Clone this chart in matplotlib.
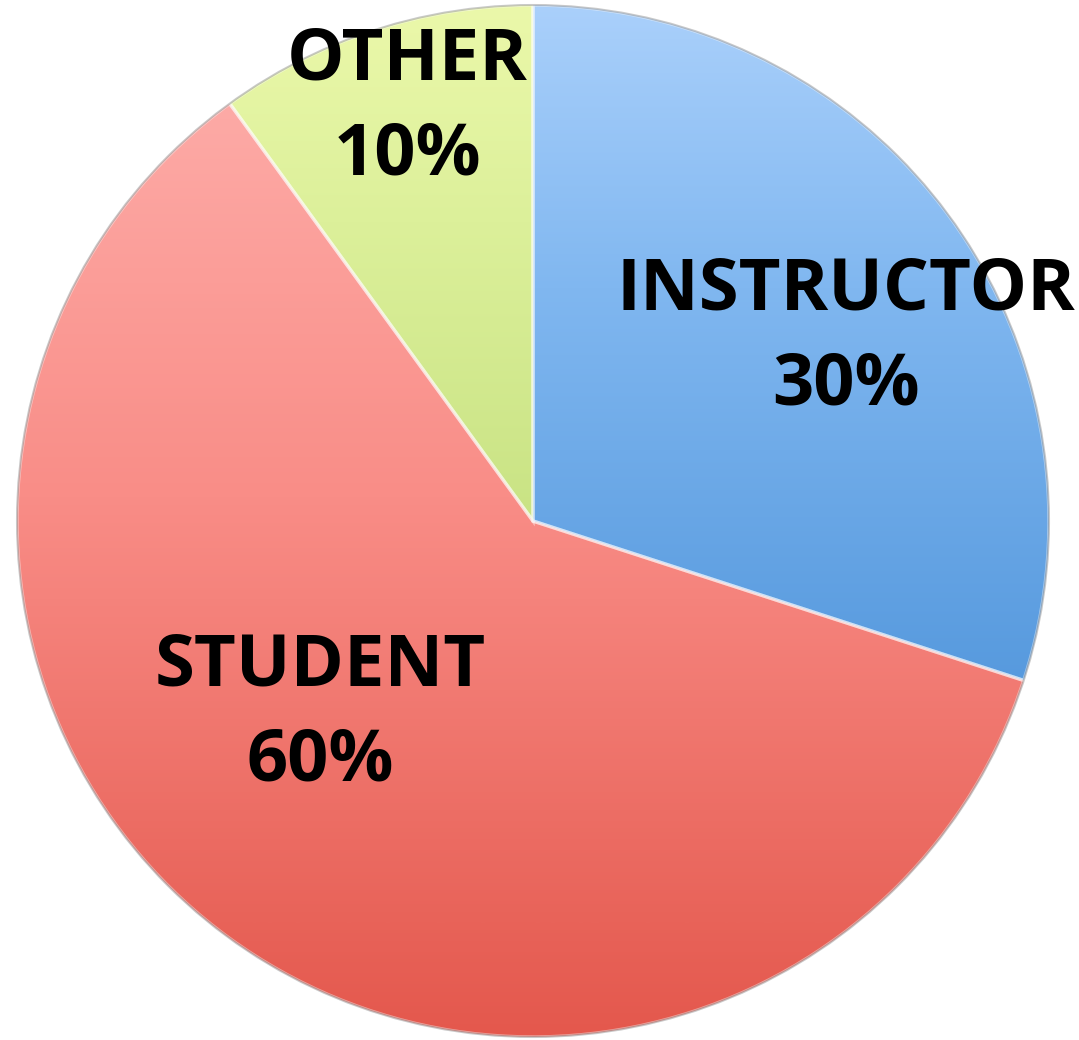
import numpy as np
import matplotlib
matplotlib.use("Agg")
import matplotlib.pyplot as plt
from matplotlib.colors import LinearSegmentedColormap

labels = ["INSTRUCTOR", "STUDENT", "OTHER"]
shares = [30, 60, 10]

# top / middle / bottom colour of each slice's vertical gradient
grad_top = ["#aad0fb", "#fdaaa6", "#ebf8aa"]
grad_mid = ["#80b7f0", "#f98d87", "#dcf09a"]
grad_bottom = ["#579ade", "#e4584d", "#c9e384"]
label_pos = [(846, 338), (320, 714), (407, 108)]

fig = plt.figure(figsize=(10.79, 10.40), dpi=100)
ax = fig.add_axes([0, 0, 1, 1])

cx, cy, r = 533, 1040 - 521, 516
wedges, _ = ax.pie(shares, startangle=90, counterclock=False,
                   radius=r, center=(cx, cy),
                   wedgeprops=dict(linewidth=0))

for w, top, mid, bot in zip(wedges, grad_top, grad_mid, grad_bottom):
    w.set_facecolor("none")
    ext = w.get_path().get_extents()
    cmap = LinearSegmentedColormap.from_list("g", [(0, top), (0.42, mid), (1, bot)])
    grad = np.linspace(0, 1, 256).reshape(-1, 1)
    im = ax.imshow(grad, cmap=cmap, aspect="auto", origin="upper",
                   extent=[ext.x0, ext.x1, ext.y0, ext.y1], zorder=1,
                   interpolation="bilinear")
    im.set_clip_path(w)
    # soft bevel highlight along the edges
    w.set_edgecolor((1, 1, 1, 0.45))
    w.set_linewidth(2.5)
    w.set_zorder(2)

# thin grey outline around the whole pie, like the soft shadow
circ = plt.Circle((cx, cy), r, fill=False, ec=(0.4, 0.4, 0.4, 0.35), lw=1.5, zorder=3)
ax.add_patch(circ)

for lab, s, (x, y) in zip(labels, shares, label_pos):
    ax.text(x, 1040 - y, f"{lab}\n{s}%", ha="center", va="center",
            fontsize=52, fontweight="bold", family="Open Sans",
            linespacing=1.42, zorder=5)

ax.set_xlim(0, 1079)
ax.set_ylim(0, 1040)
ax.set_aspect("auto")
ax.axis("off")

fig.savefig("out.png", dpi=100)
